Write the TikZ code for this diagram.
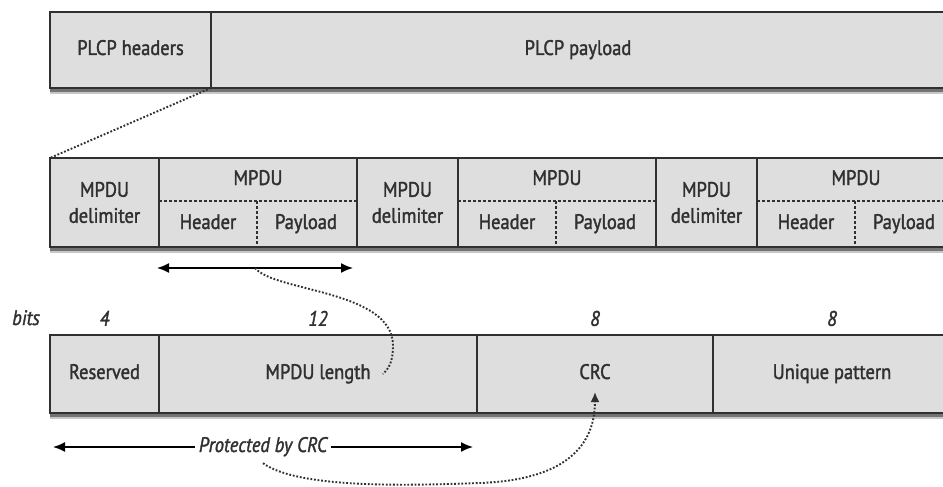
\documentclass[tikz,border=0pt]{standalone}
\usepackage{fontspec}
\setmainfont{PT Sans}[FakeStretch=0.88,FakeBold=1.6]
\usetikzlibrary{arrows.meta,positioning,calc}
\definecolor{fieldgray}{HTML}{DEDEDE}
\definecolor{inkgray}{HTML}{303030}
\tikzset{
  box/.style={draw=inkgray,fill=fieldgray,line width=1.4pt,inner sep=0pt,outer sep=0pt,align=center},
  field/.style={box,text height=14pt,text depth=4pt},
  lbl/.style={inner sep=0pt,text height=14pt,text depth=4pt},
  bitnum/.style={font=\fontsize{21}{26}\selectfont\itshape,inner sep=1pt,text height=14pt,text depth=4pt},
  rowshadow/.style={fill=black!55},
  innerdash/.style={draw=inkgray,line width=1.2pt,dash pattern=on 3pt off 2pt},
  dotline/.style={draw=inkgray,line width=1.9pt,dash pattern=on 1.8pt off 1.8pt},
  spanarrow/.style={draw=black,line width=1.6pt,{Latex[length=12pt,width=10pt]}-{Latex[length=12pt,width=10pt]}}
}
\begin{document}
\begin{tikzpicture}[x=1pt,y=-1pt,font=\fontsize{21}{26}\selectfont,text=inkgray,node distance=0pt]
\useasboundingbox (0,0) rectangle (943,487);
\clip (0,0) rectangle (943,487);
% PLCP frame
\node[field,minimum width=161,minimum height=76,anchor=north west] (plcphdr) at (50,12) {PLCP headers};
\node[field,minimum width=734,minimum height=76,right=of plcphdr] (plcppay) {PLCP payload};
\fill[rowshadow] ($(plcphdr.south west)+(0,0.7)$) rectangle ($(plcppay.south east)+(0,4)$);
\fill[black!22] ($(plcphdr.south west)+(0,4)$) rectangle ($(plcppay.south east)+(0,6)$);
% A-MPDU
\node[box,minimum width=109,minimum height=89,anchor=north west] (delim1) at (50,158) {MPDU\\delimiter};
\node[box,minimum width=198,minimum height=89,right=of delim1] (mpdu1) {};
\node[box,minimum width=101,minimum height=89,right=of mpdu1] (delim2) {MPDU\\delimiter};
\node[box,minimum width=198,minimum height=89,right=of delim2] (mpdu2) {};
\node[box,minimum width=101,minimum height=89,right=of mpdu2] (delim3) {MPDU\\delimiter};
\node[box,minimum width=198,minimum height=89,right=of delim3] (mpdu3) {};
\fill[rowshadow] ($(delim1.south west)+(0,0.7)$) rectangle ($(mpdu3.south east)+(0,4)$);
\fill[black!22] ($(delim1.south west)+(0,4)$) rectangle ($(mpdu3.south east)+(0,6)$);
\node[lbl] (mlbl1) at ($(mpdu1.north)+(0,22)$) {MPDU};
\node[lbl] (hdr1) at ($(mpdu1.north west)+(49,66)$) {Header};
\node[lbl] (pay1) at ($(mpdu1.north west)+(147,66)$) {Payload};
\node[lbl] (mlbl2) at ($(mpdu2.north)+(0,22)$) {MPDU};
\node[lbl] (hdr2) at ($(mpdu2.north west)+(49,66)$) {Header};
\node[lbl] (pay2) at ($(mpdu2.north west)+(147,66)$) {Payload};
\node[lbl] (mlbl3) at ($(mpdu3.north)+(0,22)$) {MPDU};
\node[lbl] (hdr3) at ($(mpdu3.north west)+(49,66)$) {Header};
\node[lbl] (pay3) at ($(mpdu3.north west)+(147,66)$) {Payload};
\draw[innerdash] ($(mpdu1.north west)+(0,43)$) -- ($(mpdu1.north east)+(0,43)$);\draw[innerdash] ($(mpdu1.north west)+(98,43)$) -- ($(mpdu1.south west)+(98,0)$);
\draw[innerdash] ($(mpdu2.north west)+(0,43)$) -- ($(mpdu2.north east)+(0,43)$);\draw[innerdash] ($(mpdu2.north west)+(98,43)$) -- ($(mpdu2.south west)+(98,0)$);
\draw[innerdash] ($(mpdu3.north west)+(0,43)$) -- ($(mpdu3.north east)+(0,43)$);\draw[innerdash] ($(mpdu3.north west)+(98,43)$) -- ($(mpdu3.south west)+(98,0)$);
\draw[dotline] (plcphdr.south east) -- (delim1.north west);
% delimiter fields
\node[field,minimum width=109,minimum height=78,anchor=north west] (reserved) at (50,335) {Reserved};
\node[field,minimum width=318,minimum height=78,right=of reserved] (length) {MPDU length};
\node[field,minimum width=236,minimum height=78,right=of length] (crc) {CRC};
\node[field,minimum width=238,minimum height=78,right=of crc] (unique) {Unique pattern};
\fill[rowshadow] ($(reserved.south west)+(0,0.7)$) rectangle ($(unique.south east)+(0,4)$);
\fill[black!22] ($(reserved.south west)+(0,4)$) rectangle ($(unique.south east)+(0,6)$);
\node[bitnum,above=4pt of reserved] (b4) {4};
\node[bitnum,above=4pt of length] (b12) {12};
\node[bitnum,above=4pt of crc] (b8a) {8};
\node[bitnum,above=4pt of unique] (b8b) {8};
\node[bitnum] (bits) at (26,320) {bits};
% arrows
\coordinate (spanL) at ($(mpdu1.south west)+(-2,21)$);
\coordinate (spanR) at ($(mpdu1.south east)+(-4,21)$);
\coordinate (spanM) at ($(mpdu1.south west)+(96,21)$);
\draw[spanarrow] (spanL) -- (spanR);
\coordinate (lenEnd) at ($(length.center)+(65,0)$);
\draw[dotline] (spanM) .. controls (275,292) and (392,290) .. (393,345) .. controls (393,362) and (389,368) .. (lenEnd);
\node[bitnum,inner sep=4pt] (prot) at (263,447) {Protected by CRC};
\coordinate (protL) at (53,447);
\coordinate (protR) at (473,447);
\draw[line width=1.6pt,-{Latex[length=12pt,width=10pt]}] (prot) -- (protL);\draw[line width=1.6pt,-{Latex[length=12pt,width=10pt]}] (prot) -- (protR);
\coordinate (crcTip) at ($(crc.center)+(0,18)$);
\draw[dotline,-{Latex[length=10pt,width=9pt]}] ($(prot.south)+(0,3)$) .. controls (300,490) and (420,485) .. (480,483) .. controls (560,480) and (595,450) .. (crcTip);
\end{tikzpicture}
\end{document}
